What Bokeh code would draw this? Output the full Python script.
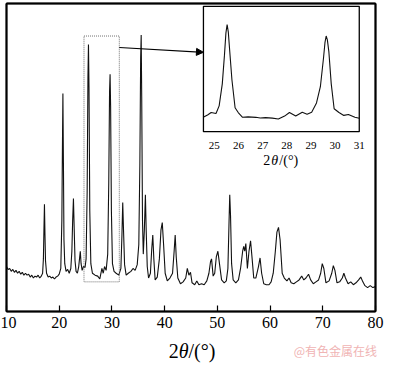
from bokeh.plotting import figure
from bokeh.layouts import column
from bokeh.models import Range1d, FixedTicker, Arrow, NormalHead, Div, LinearAxis
from bokeh.core.properties import value
from bokeh.embed import file_html
from bokeh.resources import INLINE

SERIF = "Liberation Serif"

# ---- main XRD pattern (2theta in degrees, intensity in arbitrary units) ----
two_theta = [10.0, 10.3, 10.6, 10.9, 11.2, 11.5, 11.8, 12.1, 12.4, 12.7, 13.0, 13.3, 13.6, 13.9,
             14.2, 14.5, 14.8, 15.1, 15.4, 15.7, 16.0, 16.3, 16.6, 16.85, 17.0, 17.1, 17.2, 17.3,
             17.4, 17.6, 17.9, 18.2, 18.5, 18.8, 19.1, 19.4, 19.7, 20.0, 20.3, 20.5, 20.6, 20.7,
             20.8, 20.9, 21.05, 21.3, 21.6, 21.9, 22.2, 22.4, 22.55, 22.7, 22.85, 23.0, 23.2, 23.45,
             23.7, 23.85, 24.0, 24.15, 24.35, 24.6, 24.9, 25.1, 25.3, 25.45, 25.55, 25.65, 25.8,
             26.0, 26.3, 26.8, 27.3, 27.7, 28.1, 28.35, 28.6, 28.9, 29.2, 29.4, 29.55, 29.65,
             29.75, 29.9, 30.1, 30.4, 30.8, 31.3, 31.7, 31.9, 32.05, 32.2, 32.4, 32.7, 33.1, 33.6,
             34.0, 34.4, 34.8, 35.1, 35.3, 35.45, 35.55, 35.65, 35.8, 35.95, 36.15, 36.35, 36.5,
             36.7, 36.95, 37.3, 37.55, 37.75, 37.95, 38.2, 38.6, 39.0, 39.3, 39.55, 39.8, 40.1,
             40.5, 41.0, 41.5, 41.8, 42.0, 42.2, 42.5, 43.0, 43.5, 44.0, 44.3, 44.6, 44.9, 45.2,
             45.7, 46.1, 46.5, 47.0, 47.5, 48.0, 48.4, 48.7, 48.9, 49.2, 49.5, 49.8, 50.1, 50.4,
             50.8, 51.3, 51.7, 52.0, 52.2, 52.35, 52.5, 52.7, 53.0, 53.5, 54.0, 54.4, 54.8, 55.0,
             55.2, 55.4, 55.7, 56.0, 56.3, 56.6, 56.9, 57.3, 57.8, 58.1, 58.4, 58.8, 59.3, 59.8,
             60.2, 60.6, 61.0, 61.3, 61.6, 61.9, 62.3, 62.7, 63.2, 63.6, 64.0, 64.5, 65.0, 65.5,
             66.0, 66.4, 66.8, 67.3, 67.7, 68.2, 68.7, 69.2, 69.6, 69.9, 70.2, 70.6, 71.2, 71.7,
             72.0, 72.3, 72.7, 73.2, 73.7, 74.0, 74.3, 74.8, 75.3, 75.8, 76.3, 76.8, 77.2, 77.6,
             78.0, 78.5, 79.0, 79.5, 80.0]
intensity = [47, 44, 45, 42, 44, 41, 43, 40, 42, 39, 41, 38, 40, 38,
             39, 36, 38, 35, 37, 36, 38, 35, 37, 40, 55, 85, 112, 80,
             53, 40, 36, 37, 35, 36, 34, 36, 37, 39, 45, 95, 165, 228,
             155, 75, 50, 42, 44, 40, 45, 63, 95, 118, 85, 53, 42, 40,
             47, 55, 63, 50, 43, 47, 46, 55, 125, 245, 279, 235, 105,
             50, 40, 38, 37, 34, 45, 40, 47, 43, 60, 135, 230, 248,
             215, 105, 50, 42, 40, 38, 45, 80, 114, 85, 49, 38, 40, 42,
             45, 43, 49, 70, 155, 265, 289, 225, 95, 60, 85, 122, 85,
             47, 35, 40, 65, 80, 55, 33, 36, 55, 85, 93, 70, 40,
             32, 35, 40, 63, 80, 57, 35, 29, 31, 35, 45, 38, 41, 30,
             28, 32, 28, 29, 28, 32, 40, 52, 55, 37, 40, 57, 63, 50,
             33, 30, 32, 45, 90, 122, 100, 50, 33, 30, 33, 45, 63, 68,
             63, 71, 45, 63, 74, 55, 35, 35, 47, 56, 40, 29, 28, 28,
             31, 40, 63, 83, 88, 75, 40, 35, 32, 35, 30, 29, 31, 33,
             37, 33, 35, 39, 33, 29, 31, 33, 40, 50, 45, 30, 32, 40,
             48, 43, 30, 31, 35, 40, 35, 29, 31, 28, 30, 33, 36, 31,
             27, 25, 27, 25, 26]
x_ticks = [10, 20, 30, 40, 50, 60, 70, 80]

# ---- zoomed region (inset) ----
inset_two_theta = [24.56, 24.72, 24.87, 25.07, 25.2, 25.33, 25.42, 25.48, 25.53, 25.58, 25.63,
                   25.73, 25.86, 25.99, 26.17, 26.4, 26.72, 26.9, 27.12, 27.4, 27.65, 27.91,
                   28.11, 28.37, 28.64, 28.84, 29.03, 29.23, 29.39, 29.52, 29.58, 29.63, 29.68,
                   29.74, 29.84, 29.96, 30.16, 30.36, 30.55, 30.82, 31.0]
inset_intensity = [15.3, 17.5, 20, 19, 27, 50, 80, 103, 112, 104, 87,
                   54, 25, 20, 15, 15.5, 15, 14.3, 14.7, 14.2, 13.3, 16.3,
                   20, 16.3, 20.3, 18.3, 20.3, 30, 47, 77, 93, 100, 96,
                   84, 50, 24, 20, 17, 18, 15, 14]
inset_ticks = [25, 26, 27, 28, 29, 30, 31]
inset_x_limits = (24.55, 31.0)
inset_y_limits = (0, 131)

# zoom box drawn on the main pattern
box_left, box_right, box_bottom, box_top = 24.7, 31.4, 31, 288

# main ranges, and where the inset sits inside them
main_x = (10, 80)
main_y = (0, 322)
inset_at_x = (47.36, 76.92)
inset_at_y = (188, 319)

p = figure(width=384, height=340, output_backend="svg", toolbar_location=None,
           x_range=Range1d(*main_x), y_range=Range1d(*main_y),
           min_border_left=6, min_border_right=9, min_border_top=3, min_border_bottom=29)
p.grid.visible = False
p.outline_line_color = "black"
p.outline_line_width = 1.5

# extra ranges for the inset: chosen so that the inset limits land on the inset box
sx = (inset_x_limits[1] - inset_x_limits[0]) / (inset_at_x[1] - inset_at_x[0])
sy = (inset_y_limits[1] - inset_y_limits[0]) / (inset_at_y[1] - inset_at_y[0])
p.extra_x_ranges = {"inset": Range1d(inset_x_limits[0] + (main_x[0] - inset_at_x[0]) * sx,
                                     inset_x_limits[0] + (main_x[1] - inset_at_x[0]) * sx)}
p.extra_y_ranges = {"inset": Range1d(inset_y_limits[0] + (main_y[0] - inset_at_y[0]) * sy,
                                     inset_y_limits[0] + (main_y[1] - inset_at_y[0]) * sy)}


def edge_axis():
    return LinearAxis(ticker=FixedTicker(ticks=[]), axis_line_color="black", axis_line_width=2,
                      major_label_text_font_size="0px", major_tick_line_color=None,
                      minor_tick_line_color=None, major_label_standoff=0)


p.add_layout(edge_axis(), "above")
p.add_layout(edge_axis(), "right")
ly = p.yaxis[0]
ly.ticker = FixedTicker(ticks=[])
ly.axis_line_color = "black"
ly.axis_line_width = 2
ly.major_label_text_font_size = "0px"
ly.major_tick_line_color = None
ly.minor_tick_line_color = None
ly.major_label_standoff = 0

ax = p.below[0]
ax.ticker = FixedTicker(ticks=x_ticks)
ax.major_tick_in = 6
ax.major_tick_out = 0
ax.major_tick_line_width = 1.2
ax.minor_tick_line_color = None
ax.axis_line_width = 2
ax.major_label_text_font = SERIF
ax.major_label_text_font_size = "16px"
ax.major_label_text_color = "black"
ax.major_label_standoff = 5

p.line(two_theta, intensity, line_color="#111111", line_width=1.1)

p.quad(left=[box_left], right=[box_right], bottom=[box_bottom], top=[box_top],
       fill_color=None, line_color="#707070", line_dash="1 1", line_width=1)

# ---- inset, drawn on the extra ranges ----
IN = dict(x_range_name="inset", y_range_name="inset")
p.quad(left=[inset_x_limits[0]], right=[inset_x_limits[1]],
       bottom=[inset_y_limits[0]], top=[inset_y_limits[1]],
       fill_color="white", line_color="black", line_width=1.3, **IN)
p.line(inset_two_theta, inset_intensity, line_color="#111111", line_width=1.1, **IN)
p.text(x=inset_ticks, y=[-14] * len(inset_ticks), text=[str(t) for t in inset_ticks],
       text_align="center", text_baseline="alphabetic",
       text_font=value(SERIF), text_font_size="11px", text_color="black", **IN)

mid_in = (inset_x_limits[0] + inset_x_limits[1]) / 2
for txt, off, style in [("2", -18, "normal"), ("θ", -10, "italic"), ("/(°)", -2, "normal")]:
    p.text(x=[mid_in], y=[-30], text=[txt], x_offset=off, text_align="left",
           text_baseline="alphabetic", text_font=value(SERIF), text_font_style=style,
           text_font_size="14px", text_color="black", **IN)

# arrow from the zoom box to the inset
p.add_layout(Arrow(end=NormalHead(size=7, fill_color="black", line_color="black", line_width=1),
                   x_start=box_right, y_start=276, x_end=inset_at_x[0], y_end=271,
                   line_color="black", line_width=1.2))

# axis title and watermark below the plot
footer = Div(
    text=(
        '<div style="position:relative;width:384px;height:21px;">'
        '<span style="position:absolute;left:0;top:1px;width:384px;text-align:center;'
        "font-family:'Liberation Serif','Times New Roman',serif;font-size:20px;line-height:20px;"
        'color:black;white-space:nowrap;">2<i>θ</i>/(°)</span>'
        '<span style="position:absolute;right:7px;top:4px;white-space:nowrap;'
        "font-family:'Noto Sans CJK SC',sans-serif;font-size:12px;line-height:14px;"
        'color:#f0b4b4;">@有色金属在线</span>'
        '</div>'
    ),
    width=384, height=21, margin=0,
)

layout = column(p, footer, spacing=0)
open("out.html", "w").write(file_html(layout, INLINE))
